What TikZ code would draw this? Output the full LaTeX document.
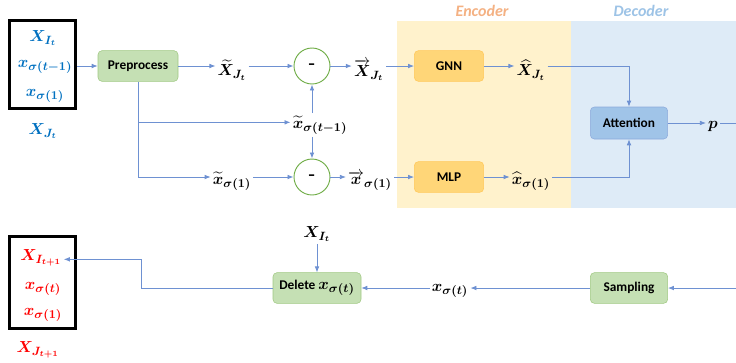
\documentclass[tikz,border=0pt]{standalone}
\usepackage{amsmath,amssymb}
\usepackage{bm}
\usepackage{fontspec}
\setsansfont{Carlito}
\usepackage{xcolor}
\usepackage{tikz}
\usetikzlibrary{arrows.meta}

\definecolor{lineblue}{RGB}{110,145,210}
\definecolor{txtblue}{RGB}{0,112,192}
\definecolor{txtred}{RGB}{255,0,0}
\definecolor{grnfill}{RGB}{197,224,180}
\definecolor{grnline}{RGB}{160,200,130}
\definecolor{orgfill}{RGB}{255,214,120}
\definecolor{orgline}{RGB}{255,200,90}
\definecolor{attfill}{RGB}{160,196,232}
\definecolor{attline}{RGB}{140,170,220}
\definecolor{encbg}{RGB}{255,242,204}
\definecolor{decbg}{RGB}{222,235,247}
\definecolor{enctxt}{RGB}{244,177,131}
\definecolor{dectxt}{RGB}{157,195,230}
\definecolor{circline}{RGB}{112,173,71}

\tikzset{
  arr/.style={draw=lineblue, line width=0.6pt, -{Latex[length=4.5pt,width=3.5pt]}},
  ln/.style={draw=lineblue, line width=0.6pt},
  lab/.style={inner sep=1.5pt, font=\fontsize{13}{15}\selectfont},
  opbox/.style={rounded corners=3pt, font=\sffamily\bfseries\fontsize{10}{12}\selectfont,
    minimum height=23pt, inner sep=1pt},
  grnbox/.style={opbox, draw=grnline, fill=grnfill},
  orgbox/.style={opbox, draw=orgline, fill=orgfill, minimum width=52pt},
  attbox/.style={opbox, draw=attline, fill=attfill, minimum width=58pt, minimum height=24pt},
  minus/.style={circle, draw=circline, fill=white, line width=0.7pt, minimum size=27pt,
    font=\bfseries\fontsize{13}{15}\selectfont},
  setbox/.style={draw=black, line width=2.2pt, minimum width=50pt}
}

\begin{document}
\begin{tikzpicture}[x=0.75pt,y=-0.75pt]
  \useasboundingbox (0,0) rectangle (736,362);
  % encoder / decoder backgrounds
  \fill[encbg] (397,21) rectangle (571,208);
  \fill[decbg] (571,21) rectangle (736,208);
  \node[font=\sffamily\bfseries\itshape\fontsize{12}{14}\selectfont, text=enctxt] (enc) at (482,11) {Encoder};
  \node[font=\sffamily\bfseries\itshape\fontsize{12}{14}\selectfont, text=dectxt] (dec) at (641,11) {Decoder};

  % input set
  \node[setbox, minimum height=66pt] (inbox) at (42.5,64.5) {};
  \node[lab, text=txtblue] (xI) at (43,38) {$\bm{X_{I_t}}$};
  \node[lab, text=txtblue] (xsa) at (45,67) {$\bm{x_{\sigma(t-1)}}$};
  \node[lab, text=txtblue] (xsb) at (45,96) {$\bm{x_{\sigma(1)}}$};
  \node[lab, text=txtblue] (xJ) at (43,131) {$\bm{X_{J_t}}$};

  % upper path
  \node[grnbox, minimum width=60pt] (preproc) at (138,66) {Preprocess};
  \node[lab] (xtJ) at (232,70) {$\bm{\widetilde{X}_{J_t}}$};
  \node[minus] (minusA) at (312,66) {-};
  \node[lab] (xvJ) at (369,70) {$\overrightarrow{\bm{X}}_{\bm{J_t}}$};
  \node[orgbox] (gnn) at (449,66) {GNN};
  \node[lab] (xhJ) at (531,70) {$\bm{\widehat{X}_{J_t}}$};
  \node[attbox] (attn) at (629,123) {Attention};
  \node[lab] (pout) at (713,126) {$\bm{p}$};
  \coordinate (pend) at (736,123);

  % middle and lower path
  \node[lab] (xtone) at (320,125) {$\bm{\widetilde{x}_{\sigma(t-1)}}$};
  \node[lab] (xts) at (232,181) {$\bm{\widetilde{x}_{\sigma(1)}}$};
  \node[minus] (minusB) at (312,177) {-};
  \node[lab] (xvone) at (370,181) {$\overrightarrow{\bm{x}}_{\bm{\sigma(1)}}$};
  \node[orgbox] (mlp) at (449,177) {MLP};
  \node[lab] (xhone) at (531,181) {$\bm{\widehat{x}_{\sigma(1)}}$};

  \draw[arr] (inbox.east |- preproc) -- (preproc.west);
  \draw[arr] (preproc.east) -- (preproc.east -| xtJ.west);
  \draw[arr] (xtJ.east |- minusA) -- (minusA.west);
  \draw[arr] (minusA.east) -- (minusA.east -| xvJ.west);
  \draw[arr] (xvJ.east |- gnn) -- (gnn.west);
  \draw[arr] (gnn.east) -- (gnn.east -| xhJ.west);
  \draw[arr] (xhJ.east |- gnn) -| (attn.north);
  \draw[arr] (attn.east) -- (attn.east -| pout.west);
  \draw[ln] (pout.east |- attn) -- (pend);
  \draw[arr] (preproc.south) |- (xts.west |- minusB);
  \draw[arr] ([yshift=2pt]xtone.west -| preproc.south) -- ([yshift=2pt]xtone.west);
  \draw[arr] (minusA |- xtone.north) -- (minusA.south);
  \draw[arr] (minusB |- xtone.south) -- (minusB.north);
  \draw[arr] (xts.east |- minusB) -- (minusB.west);
  \draw[arr] (minusB.east) -- (minusB.east -| xvone.west);
  \draw[arr] (xvone.east |- mlp) -- (mlp.west);
  \draw[arr] (mlp.east) -- (mlp.east -| xhone.west);
  \draw[arr] (xhone.east |- mlp) -| (attn.south);

  % bottom row
  \node[setbox, minimum height=69pt] (outbox) at (42.5,282.5) {};
  \node[lab, text=txtred] (xIn) at (41,258) {$\bm{X_{I_{t+1}}}$};
  \node[lab, text=txtred] (xsc) at (43,289) {$\bm{x_{\sigma(t)}}$};
  \node[lab, text=txtred] (xsd) at (43,315) {$\bm{x_{\sigma(1)}}$};
  \node[lab, text=txtred] (xJn) at (38,350) {$\bm{X_{J_{t+1}}}$};
  \node[grnbox, minimum width=66pt] (delete) at (317,288) {Delete \fontsize{13}{15}\selectfont$\bm{x_{\sigma(t)}}$};
  \node[lab] (xItop) at (317,234) {$\bm{X_{I_t}}$};
  \node[grnbox, minimum width=58pt] (sampling) at (629,288) {Sampling};
  \node[lab] (xsig) at (450,291) {$\bm{x_{\sigma(t)}}$};
  \coordinate (sampin) at (736,288);

  \draw[arr] (sampin) -- (sampling.east);
  \draw[arr] (sampling.west) -- (sampling.west -| xsig.east);
  \draw[arr] (xsig.west |- delete) -- (delete.east);
  \draw[arr] (xItop.south) -- (delete.north);
  \draw[arr] (delete.west) -- (141,288) |- ([yshift=-1pt]xIn.east);
\end{tikzpicture}
\end{document}
